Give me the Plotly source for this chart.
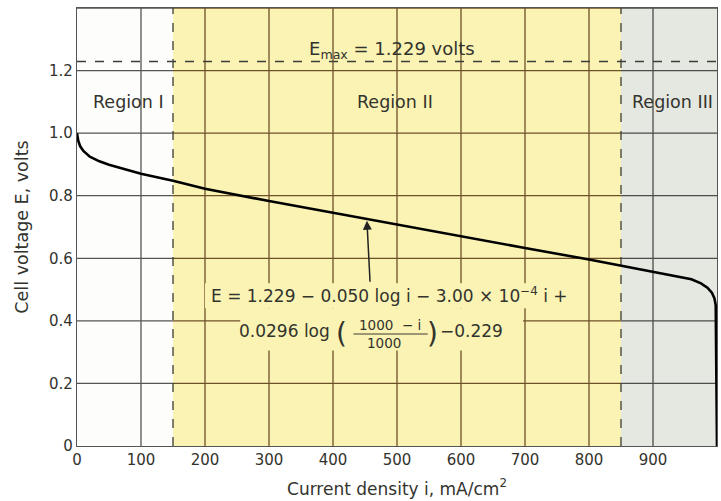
import plotly.graph_objects as go

# ---- data ----
current_density = [0, 2, 5, 10, 20, 35, 50, 75, 100, 150, 200, 300, 400, 500,
                   600, 700, 800, 850, 900, 940, 960, 975, 985, 992, 996, 998, 999, 1000]
cell_voltage = [1.0, 0.975, 0.958, 0.943, 0.925, 0.91, 0.899, 0.884, 0.87, 0.848, 0.822,
                0.783, 0.745, 0.709, 0.671, 0.633, 0.596, 0.577, 0.558, 0.543, 0.533,
                0.52, 0.506, 0.49, 0.472, 0.45, 0.3, 0.0]

x_ticks = [0, 100, 200, 300, 400, 500, 600, 700, 800, 900]
x_tick_labels = ["0", "100", "200", "300", "400", "500", "600", "700", "800", "900"]
y_ticks = [0, 0.2, 0.4, 0.6, 0.8, 1.0, 1.2]
y_tick_labels = ["0", "0.2", "0.4", "0.6", "0.8", "1.0", "1.2"]

region_bounds = [0, 150, 850, 1000]
region_names = ["Region I", "Region II", "Region III"]
region_fill = ["#fdfdfb", "#faf3b4", "#e5e7e1"]
region_grid = ["#555555", "#6e5028", "#4a4d48"]
e_max = 1.229
x_max = 1000
y_max = 1.4

text_color = "#33332d"
font_family = "DejaVu Sans, Verdana, sans-serif"

fig = go.Figure()
fig.add_trace(go.Scatter(x=current_density, y=cell_voltage, mode="lines",
                         line=dict(color="black", width=2.6), showlegend=False,
                         hoverinfo="skip"))

shapes = []
# region backgrounds
for i in range(3):
    shapes.append(dict(type="rect", xref="x", yref="y", layer="below",
                       x0=region_bounds[i], x1=region_bounds[i + 1], y0=0, y1=y_max,
                       fillcolor=region_fill[i], line=dict(width=0)))

def region_of(x):
    for i in range(3):
        if region_bounds[i] <= x < region_bounds[i + 1]:
            return i
    return 2

# vertical grid lines
for xv in x_ticks[1:]:
    shapes.append(dict(type="line", xref="x", yref="y", layer="below",
                       x0=xv, x1=xv, y0=0, y1=y_max,
                       line=dict(color=region_grid[region_of(xv)], width=1.3)))
# horizontal grid lines (segment per region)
for yv in y_ticks[1:] + [y_max]:
    for i in range(3):
        shapes.append(dict(type="line", xref="x", yref="y", layer="below",
                           x0=region_bounds[i], x1=region_bounds[i + 1], y0=yv, y1=yv,
                           line=dict(color=region_grid[i], width=1.3)))

# masks behind the equation text
shapes.append(dict(type="rect", xref="x", yref="y", layer="below",
                   x0=200, x1=772, y0=0.44, y1=0.52,
                   fillcolor=region_fill[1], line=dict(width=0)))
shapes.append(dict(type="rect", xref="x", yref="y", layer="below",
                   x0=255, x1=697, y0=0.305, y1=0.44,
                   fillcolor=region_fill[1], line=dict(width=0)))

# region boundary dashed lines
for xb in region_bounds[1:3]:
    shapes.append(dict(type="line", xref="x", yref="y", layer="below",
                       x0=xb, x1=xb, y0=0, y1=y_max,
                       line=dict(color="#3c3c30", width=1.3, dash="dash")))
# Emax dashed line
shapes.append(dict(type="line", xref="x", yref="y", layer="below",
                   x0=0, x1=x_max, y0=e_max, y1=e_max,
                   line=dict(color="#3c3c38", width=1.6, dash="dash")))
# fraction bar
shapes.append(dict(type="line", xref="x", yref="y",
                   x0=432, x1=548, y0=0.358, y1=0.358,
                   line=dict(color="#3a3a30", width=1)))

annotations = []
region_label_x = [80, 497, 931]
for name, xl in zip(region_names, region_label_x):
    annotations.append(dict(x=xl, y=1.1, xref="x", yref="y", text=name, showarrow=False,
                            font=dict(size=17.5, color=text_color, family=font_family)))

annotations.append(dict(x=492, y=1.267, xref="x", yref="y",
                        text="E<sub>max</sub> = 1.229 volts", showarrow=False,
                        font=dict(size=18, color=text_color, family=font_family)))

eq_font = dict(size=17, color=text_color, family=font_family)
annotations.append(dict(x=206, y=0.483, xref="x", yref="y", xanchor="left",
                        text="E = 1.229 − 0.050 log i − 3.00 × 10<sup>−4</sup> i +",
                        showarrow=False, font=eq_font))
annotations.append(dict(x=398, y=0.368, xref="x", yref="y", xanchor="right",
                        text="0.0296 log", showarrow=False, font=eq_font))
annotations.append(dict(x=414, y=0.36, xref="x", yref="y",
                        text="(", showarrow=False,
                        font=dict(size=28, color=text_color, family=font_family)))
annotations.append(dict(x=556, y=0.36, xref="x", yref="y",
                        text=")", showarrow=False,
                        font=dict(size=28, color=text_color, family=font_family)))
annotations.append(dict(x=564, y=0.368, xref="x", yref="y", xanchor="left",
                        text="−0.229", showarrow=False, font=eq_font))
annotations.append(dict(x=489, y=0.386, xref="x", yref="y",
                        text="1000  − i", showarrow=False,
                        font=dict(size=13.5, color=text_color, family=font_family)))
annotations.append(dict(x=479, y=0.329, xref="x", yref="y",
                        text="1000", showarrow=False,
                        font=dict(size=13.5, color=text_color, family=font_family)))

# arrow pointing to the curve
annotations.append(dict(x=453, y=0.72, xref="x", yref="y",
                        ax=458, ay=0.52, axref="x", ayref="y",
                        text="", showarrow=True, arrowhead=2, arrowsize=1.2,
                        arrowwidth=1.5, arrowcolor="#222"))

fig.update_layout(
    width=721, height=501,
    margin=dict(l=77, r=4, t=8, b=55),
    paper_bgcolor="white", plot_bgcolor="white",
    shapes=shapes, annotations=annotations,
    font=dict(family=font_family, color=text_color, size=15),
    xaxis=dict(range=[0, x_max], tickvals=x_ticks, ticktext=x_tick_labels,
               showgrid=False, zeroline=False, showline=True, linecolor="#555",
               linewidth=1.3, mirror=True, ticks="",
               tickfont=dict(size=15, color=text_color),
               title=dict(text="Current density i, mA/cm<sup>2</sup>", standoff=14,
                          font=dict(size=17, color=text_color))),
    yaxis=dict(range=[0, y_max], tickvals=y_ticks, ticktext=y_tick_labels,
               showgrid=False, zeroline=False, showline=True, linecolor="#555",
               linewidth=1.3, mirror=True, ticks="",
               tickfont=dict(size=15, color=text_color),
               title=dict(text="Cell voltage E, volts", standoff=15,
                          font=dict(size=17.5, color=text_color))),
)

fig.write_html("out.html")
